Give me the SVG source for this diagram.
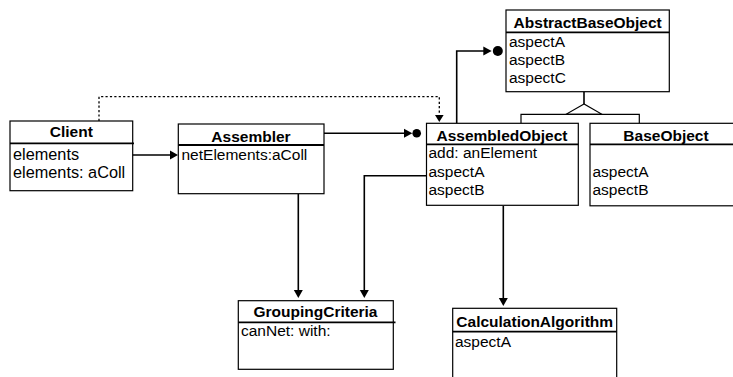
<svg xmlns="http://www.w3.org/2000/svg" width="733" height="377" viewBox="0 0 733 377">
<style>
.box{fill:#fff;stroke:#000;stroke-width:1.2}
.sep{stroke:#000;stroke-width:1.8}
.t{font-family:"Liberation Sans",Arial,sans-serif;font-size:15.5px;font-weight:bold;text-anchor:middle;fill:#000}
.a{font-family:"Liberation Sans",Arial,sans-serif;font-size:15.5px;fill:#000}
.c{fill:none;stroke:#000;stroke-width:1.6}
.d{fill:none;stroke:#000;stroke-width:1.3;stroke-dasharray:2.2 2.2}
.h{fill:#000}
</style>
<rect width="733" height="377" fill="#fff"/>
<g id="connectors">
<polyline class="d" points="99,121 99,96.7 439.3,96.7 439.3,116"/>
<polygon class="h" points="435,115 443.6,115 439.3,122"/>
<line class="c" x1="128" y1="155" x2="171" y2="155"/>
<polygon class="h" points="170,150.5 178,155 170,159.5"/>
<line class="c" x1="324" y1="133.3" x2="405" y2="133.3"/>
<polygon class="h" points="404,128.8 412.3,133.3 404,137.8"/>
<circle class="h" cx="416.7" cy="133.3" r="4.3"/>
<polyline class="c" points="456.7,123.3 456.7,51 484,51"/>
<polygon class="h" points="483.3,46.5 491.7,51 483.3,55.5"/>
<circle class="h" cx="497.8" cy="51" r="5"/>
<line class="c" x1="298.3" y1="194" x2="298.3" y2="291"/>
<polygon class="h" points="293.8,290 302.8,290 298.3,298"/>
<polyline class="c" points="426,175.7 364.3,175.7 364.3,291"/>
<polygon class="h" points="359.8,290 368.8,290 364.3,298"/>
<line class="c" x1="503.3" y1="206" x2="503.3" y2="299"/>
<polygon class="h" points="498.8,298 507.8,298 503.3,306"/>
<line class="c" x1="584" y1="91.7" x2="584" y2="104"/>
<polygon fill="#fff" stroke="#000" stroke-width="1.2" points="584,104 566,114.3 602,114.3"/>
<polyline fill="none" stroke="#000" stroke-width="1.2" points="521,123.3 521,114.3 639.3,114.3 639.3,123.3"/>
</g>
<g id="Client">
<rect class="box" x="10" y="121" width="122.7" height="69.7"/>
<line class="sep" x1="10" y1="143.3" x2="134" y2="143.3"/>
<text class="t" x="71.3" y="137">Client</text>
<text class="a" x="13" y="159.5" style="font-size:16.3px">elements</text>
<text class="a" x="13" y="177.5" style="font-size:16.3px">elements: aColl</text>
</g>
<g id="Assembler">
<rect class="box" x="178.3" y="124" width="145.7" height="69.7"/>
<line class="sep" x1="178.3" y1="145" x2="324" y2="145"/>
<text class="t" x="251" y="141.5">Assembler</text>
<text class="a" x="181.5" y="160">netElements:aColl</text>
</g>
<g id="AssembledObject">
<rect class="box" x="426.5" y="123.3" width="151.8" height="82"/>
<line class="sep" x1="426.5" y1="144.3" x2="578.3" y2="144.3"/>
<text class="t" x="502" y="140.5">AssembledObject</text>
<text class="a" x="428.5" y="158.3">add: anElement</text>
<text class="a" x="428.5" y="176.6">aspectA</text>
<text class="a" x="428.5" y="195">aspectB</text>
</g>
<g id="BaseObject">
<rect class="box" x="590" y="123.3" width="152" height="82.5"/>
<line class="sep" x1="590" y1="144.3" x2="742" y2="144.3"/>
<text class="t" x="666" y="140.5">BaseObject</text>
<text class="a" x="592.5" y="176.6">aspectA</text>
<text class="a" x="592.5" y="195">aspectB</text>
</g>
<g id="AbstractBaseObject">
<rect class="box" x="506" y="10" width="163.3" height="81.7"/>
<line class="sep" x1="506" y1="32.3" x2="669.3" y2="32.3"/>
<text class="t" x="587.7" y="27.5">AbstractBaseObject</text>
<text class="a" x="509" y="46.7">aspectA</text>
<text class="a" x="509" y="64.8">aspectB</text>
<text class="a" x="509" y="82.7">aspectC</text>
</g>
<g id="GroupingCriteria">
<rect class="box" x="238.3" y="300.7" width="155" height="68.6"/>
<line class="sep" x1="238.3" y1="322.3" x2="395.5" y2="322.3"/>
<text class="t" x="315.5" y="317">GroupingCriteria</text>
<text class="a" x="241" y="335.5">canNet: with:</text>
</g>
<g id="CalculationAlgorithm">
<rect class="box" x="452.7" y="308.3" width="164" height="80"/>
<line class="sep" x1="452.7" y1="331.7" x2="616.7" y2="331.7"/>
<text class="t" x="534.7" y="327">CalculationAlgorithm</text>
<text class="a" x="455" y="346.5">aspectA</text>
</g>
</svg>
